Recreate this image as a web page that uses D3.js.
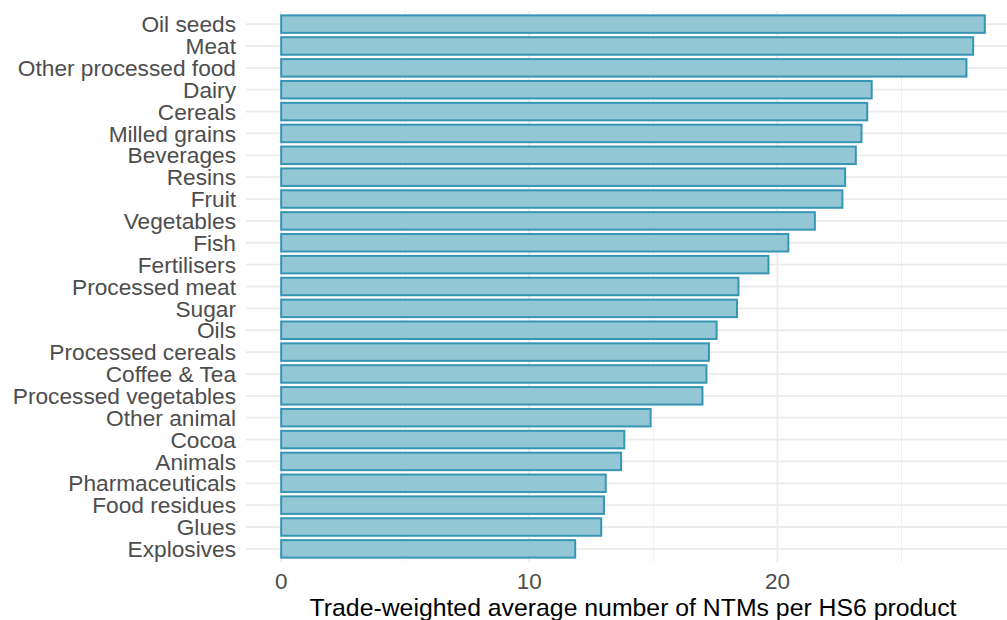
<!DOCTYPE html>
<html>
<head>
<meta charset="utf-8">
<script src="https://cdn.jsdelivr.net/npm/d3@7"></script>
<style>
  body { margin: 0; background: #fff; }
  svg { display: block; font-family: "Liberation Sans", Arial, sans-serif; }
</style>
</head>
<body>
<script>
var width = 1007,
    height = 620;

// categories top to bottom
var categories = ["Oil seeds", "Meat", "Other processed food", "Dairy", "Cereals",
  "Milled grains", "Beverages", "Resins", "Fruit", "Vegetables", "Fish", "Fertilisers",
  "Processed meat", "Sugar", "Oils", "Processed cereals", "Coffee & Tea",
  "Processed vegetables", "Other animal", "Cocoa", "Animals", "Pharmaceuticals",
  "Food residues", "Glues", "Explosives"];
var values = [28.36, 27.89, 27.62, 23.8, 23.62, 23.39, 23.16, 22.73, 22.62, 21.51,
  20.44, 19.64, 18.43, 18.37, 17.55, 17.24, 17.14, 16.98, 14.89, 13.83, 13.7,
  13.08, 13.01, 12.9, 11.85];
var xTicks = [0, 10, 20];
var xMinor = [5, 15, 25];
var xTitle = "Trade-weighted average number of NTMs per HS6 product";

var data = categories.map(function(c, i) { return {name: c, value: values[i]}; });

var panel = {left: 246, right: 1020, top: 11, bottom: 562};

var xmax = d3.max(values);
var x = d3.scaleLinear()
    .domain([-xmax * 0.05, xmax * 1.05])
    .range([panel.left, panel.right]);

var y = d3.scaleBand()
    .domain(categories)
    .range([panel.top, panel.bottom])
    .paddingInner(0)
    .paddingOuter(0.1);

var svg = d3.select("body").append("svg")
    .attr("width", width)
    .attr("height", height)
    .style("overflow", "hidden");

// grid
svg.append("g").selectAll("line").data(xMinor)
  .enter().append("line")
    .attr("x1", d => x(d)).attr("x2", d => x(d))
    .attr("y1", panel.top).attr("y2", panel.bottom)
    .attr("stroke", "#efefef").attr("stroke-width", 1);

svg.append("g").selectAll("line").data(xTicks)
  .enter().append("line")
    .attr("x1", d => x(d)).attr("x2", d => x(d))
    .attr("y1", panel.top).attr("y2", panel.bottom)
    .attr("stroke", "#ebebeb").attr("stroke-width", 1.8);

svg.append("g").selectAll("line").data(categories)
  .enter().append("line")
    .attr("x1", panel.left).attr("x2", panel.right)
    .attr("y1", d => y(d) + y.bandwidth() / 2)
    .attr("y2", d => y(d) + y.bandwidth() / 2)
    .attr("stroke", "#ebebeb").attr("stroke-width", 1.8);

// bars
var bh = y.bandwidth() * 0.8;
svg.append("g").selectAll("rect").data(data)
  .enter().append("rect")
    .attr("x", x(0))
    .attr("y", d => y(d.name) + (y.bandwidth() - bh) / 2)
    .attr("width", d => x(d.value) - x(0))
    .attr("height", bh)
    .attr("fill", "#94c7d6")
    .attr("stroke", "#3795b4")
    .attr("stroke-width", 2);

// y labels
svg.append("g").selectAll("text").data(categories)
  .enter().append("text")
    .attr("x", 236)
    .attr("y", d => y(d) + y.bandwidth() / 2)
    .attr("dy", "0.36em")
    .attr("text-anchor", "end")
    .attr("fill", "#4d4d4d")
    .style("font-size", "22.7px")
    .text(d => d);

// x tick labels
svg.append("g").selectAll("text").data(xTicks)
  .enter().append("text")
    .attr("x", d => x(d))
    .attr("y", 589)
    .attr("text-anchor", "middle")
    .attr("fill", "#4d4d4d")
    .style("font-size", "22.5px")
    .text(d => d);

svg.append("text")
    .attr("x", (panel.left + panel.right) / 2)
    .attr("y", 616)
    .attr("text-anchor", "middle")
    .attr("fill", "#000")
    .style("font-size", "24.8px")
    .text(xTitle);
</script>
</body>
</html>
